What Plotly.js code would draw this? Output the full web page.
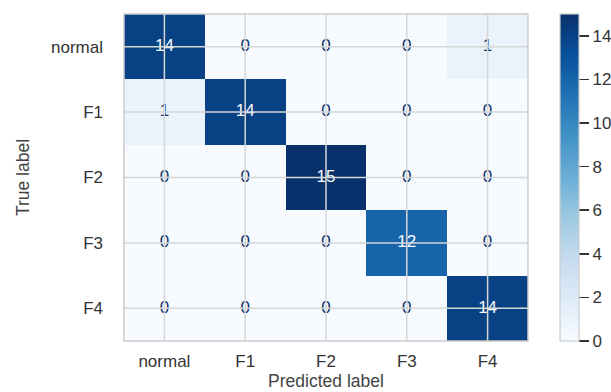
<!DOCTYPE html>
<html>
<head>
<meta charset="utf-8">
<script src="https://cdn.plot.ly/plotly-3.0.1.min.js"></script>
<style>html,body{margin:0;padding:0;background:#fff;}#chart{width:611px;height:392px;}</style>
</head>
<body>
<div id="chart"></div>
<script>
// Data
const predictedLabels = ["normal", "F1", "F2", "F3", "F4"];
const trueLabels = ["normal", "F1", "F2", "F3", "F4"];
const matrix = [
  [14, 0, 0, 0, 1],
  [1, 14, 0, 0, 0],
  [0, 0, 15, 0, 0],
  [0, 0, 0, 12, 0],
  [0, 0, 0, 0, 14]
];
const colorbarTicks = [0, 2, 4, 6, 8, 10, 12, 14];

const blues = [
  [0.0, "#f7fbff"], [0.125, "#deebf7"], [0.25, "#c6dbef"], [0.375, "#9ecae1"],
  [0.5, "#6baed6"], [0.625, "#4292c6"], [0.75, "#2171b5"], [0.875, "#08519c"], [1.0, "#08306b"]
];
const zmin = 0, zmax = 15;
const thresh = (zmin + zmax) / 2;
const FAMILY = "Liberation Sans, Arial, sans-serif";

const heat = {
  type: "heatmap",
  x: predictedLabels,
  y: trueLabels,
  z: matrix,
  zmin: zmin, zmax: zmax,
  colorscale: blues,
  xgap: 0, ygap: 0,
  hoverinfo: "skip",
  colorbar: {
    x: 1.078, xanchor: "left", xref: "paper",
    y: 0, yanchor: "bottom", len: 1, lenmode: "fraction",
    thickness: 19, xpad: 0, ypad: 0,
    outlinecolor: "#cccccc", outlinewidth: 1.2,
    tickvals: colorbarTicks,
    ticks: "outside", ticklen: 10, tickwidth: 1.5, tickcolor: "#333",
    tickfont: {family: FAMILY, size: 17, color: "#333"}
  }
};

const tx = [], ty = [], tt = [], tc = [];
trueLabels.forEach((r, i) => {
  predictedLabels.forEach((c, j) => {
    tx.push(c); ty.push(r); tt.push(String(matrix[i][j]));
    tc.push(matrix[i][j] > thresh ? "#f7fbff" : "#08306b");
  });
});
const texts = {
  type: "scatter", mode: "text",
  x: tx, y: ty, text: tt,
  textfont: {family: FAMILY, size: 17, color: tc},
  hoverinfo: "skip", showlegend: false
};

const shapes = [];
predictedLabels.forEach(c => shapes.push({
  type: "line", xref: "x", yref: "paper", x0: c, x1: c, y0: 0, y1: 1,
  line: {color: "#d6d6d6", width: 1.5}, layer: "above"
}));
trueLabels.forEach(r => shapes.push({
  type: "line", xref: "paper", yref: "y", x0: 0, x1: 1, y0: r, y1: r,
  line: {color: "#d6d6d6", width: 1.5}, layer: "above"
}));
shapes.push({
  type: "rect", xref: "paper", yref: "paper", x0: 0, x1: 1, y0: 0, y1: 1,
  line: {color: "#cccccc", width: 1.5}, layer: "above"
});

const layout = {
  width: 611, height: 392,
  margin: {l: 124, r: 83, t: 14, b: 51, autoexpand: false},
  paper_bgcolor: "#ffffff", plot_bgcolor: "#ffffff",
  font: {family: FAMILY, color: "#333"},
  showlegend: false,
  xaxis: {
    type: "category", showgrid: false, zeroline: false, showline: false,
    ticks: "", tickfont: {size: 17, color: "#333"}, ticklabelstandoff: 8,
    title: {text: "Predicted label", font: {size: 17.5, color: "#444"}, standoff: 4},
    fixedrange: true, automargin: false
  },
  yaxis: {
    type: "category", autorange: "reversed", showgrid: false, zeroline: false, showline: false,
    ticks: "", tickfont: {size: 17, color: "#333"}, ticklabelstandoff: 20,
    title: {text: "True label", font: {size: 17.5, color: "#444"}, standoff: 16},
    fixedrange: true, automargin: false
  },
  shapes: shapes
};

Plotly.newPlot("chart", [heat, texts], layout, {displayModeBar: false, staticPlot: true});
</script>
</body>
</html>
